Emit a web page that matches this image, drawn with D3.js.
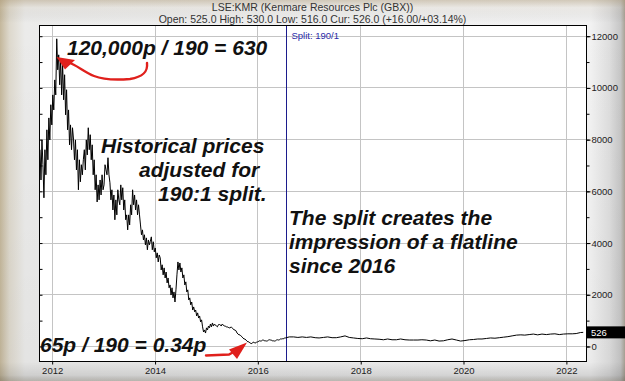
<!DOCTYPE html>
<html><head><meta charset="utf-8">
<script src="https://cdn.jsdelivr.net/npm/d3@7"></script>
<style>body{margin:0;overflow:hidden;background:#fff}svg{display:block}</style>
</head><body><svg id="c" width="625" height="381"></svg>
<script>
// ---------- data ----------
const title = "LSE:KMR (Kenmare Resources Plc (GBX))";
const subtitle = "Open: 525.0 High: 530.0 Low: 516.0 Cur: 526.0 (+16.00/+03.14%)";
const weeklyStart = "2011-10-10";
const weeklyClose = [
  7590,6420,7970,7010,5730,7590,6620,8360,7200,8820,
  7970,9330,8550,9710,9130,10290,9710,11880,10680,11260,
  10100,11070,9710,10880,9520,10490,8940,9910,8360,9130,
  7780,8550,7590,8440,8000,
  7200,7970,6810,7590,6040,7200,
  6350,7010,6620,7200,7590,6810,7970,7390,8440,7590,
  8170,7200,7780,6620,7200,6040,6620,5570,6230,5650,
  6420,5840,6620,6040,6230,7010,6810,6620,7280,6620,
  6310,5650,6040,5260,5840,4880,5650,5070,6040,5650,
  5460,6230,5650,6120,5260,5650,4880,5070,4490,5070,
  4680,5460,5070,6040,5460,5840,5260,5650,5070,5460,
  5070,4680,4300,4490,4100,4300,3910,4180,3720,4100,
  3910,4050,
  4220,3720,4030,3640,3790,3410,3600,3250,3520,
  3410,2940,3140,2750,3020,2630,2860,2440,2630,2250,
  2360,1970,2250,1860,2090,1700,2170,2750,3250,2940,
  3210,2860,3020,2630,2750,2360,2480,2090,2170,1780,
  1860,1590,1700,1390,1510,1320,1390,1160,1280,1080,
  1160,930,1010,740,540,620,500,700,620,770,
  700,850,740,890,770,850,810,770,740,810,
  850,810,770,850,810,770,770,740,740,720,
  700,700,740,700,660,620,620,580,500,460,430,
  430,390,350,310,270,270,230,190,160,160,
  120,100,90,140,150,110,120,160,150,190,
  200,190,200,230,230,190,200,190,200,230,
  240,230,230,190,200,190,200,230,240,230,
  240,270,270,280,270,310,310
];
const monthlyStart = "2016-08-15";
const monthlyClose = [
  350,350,330,350,330,350,320,310,330,350,
  320,320,350,390,330,310,290,280,310,280,
  270,260,240,270,240,240,270,240,230,230,
  230,240,230,200,230,190,200,240,270,230,
  190,210,240,250,270,270,290,310,300,320,
  340,360,390,420,430,420,440,460,430,460,
  440,460,470,440,460,470,470,480,520
];
const lastDate = "2022-05-04";
const lastClose = 526;
const splitDate = "2016-07-25";
const splitLabel = "Split: 190/1";
const yMajorTicks = [0,2000,4000,6000,8000,10000,12000];
const yMinorTicks = [0,1000,2000,3000,4000,5000,6000,7000,8000,9000,10000,11000,12000];
const xTickYears = [2012,2014,2016,2018,2020,2022];
const note1 = "120,000p / 190 = 630";
const note2 = ["Historical prices","adjusted for","190:1 split."];
const note3 = ["The split creates the","impression of a flatline","since 2016"];
const note4 = "65p / 190 = 0.34p";

// ---------- build table ----------
const parse = d3.timeParse("%Y-%m-%d");
const series = [];
weeklyClose.forEach((v,i)=>series.push({d:d3.timeWeek.offset(parse(weeklyStart),i),v}));
monthlyClose.forEach((v,i)=>series.push({d:d3.timeMonth.offset(parse(monthlyStart),i),v}));
series.push({d:parse(lastDate),v:lastClose});

// ---------- layout ----------
const W=625,H=381;
const L=39,R=587,T=25,B=362;
const svg=d3.select("#c");
const FONT="'Liberation Sans', Arial, sans-serif";

const x=d3.scaleTime().domain([parse("2011-10-03"),parse("2022-05-31")]).range([L,R]);
const y=d3.scaleLinear().domain([-620,12414]).range([B,T]);

// background
const defs=svg.append("defs");
const gH=defs.append("linearGradient").attr("id","bgH").attr("x1",0).attr("x2",1).attr("y1",0).attr("y2",0);
[[0,"#c4b79b"],[0.015,"#ddd8cc"],[0.04,"#ebebea"],[0.5,"#f0f0f0"],[0.945,"#f2f2f2"],[0.975,"#dedede"],[0.993,"#c6c6c6"],[1,"#a9a295"]]
  .forEach(s=>gH.append("stop").attr("offset",s[0]).attr("stop-color",s[1]));
const gV=defs.append("linearGradient").attr("id","bgV").attr("x1",0).attr("x2",0).attr("y1",0).attr("y2",1);
[[0,"rgba(170,150,115,0.45)"],[0.02,"rgba(170,150,115,0.1)"],[0.06,"rgba(0,0,0,0)"],[0.95,"rgba(0,0,0,0.03)"],[0.985,"rgba(0,0,0,0.12)"],[1,"rgba(60,50,30,0.3)"]]
  .forEach(s=>gV.append("stop").attr("offset",s[0]).attr("stop-color",s[1]));
svg.append("rect").attr("width",W).attr("height",H).attr("fill","url(#bgH)");
svg.append("rect").attr("width",W).attr("height",H).attr("fill","url(#bgV)");

// plot area
svg.append("rect").attr("x",L).attr("y",T).attr("width",R-L).attr("height",B-T).attr("fill","#fff");

// grid
svg.append("g").selectAll("line").data(yMajorTicks).join("line")
  .attr("x1",L).attr("x2",R).attr("y1",d=>Math.round(y(d))+0.5).attr("y2",d=>Math.round(y(d))+0.5)
  .attr("stroke","#c4c4c4");
svg.append("g").selectAll("line").data(xTickYears).join("line")
  .attr("x1",d=>Math.round(x(new Date(d,0,1)))+0.5).attr("x2",d=>Math.round(x(new Date(d,0,1)))+0.5)
  .attr("y1",T).attr("y2",B).attr("stroke","#c4c4c4");

// split line
const sx=Math.round(x(parse(splitDate)))+0.5;
svg.append("line").attr("x1",sx).attr("x2",sx).attr("y1",T).attr("y2",B).attr("stroke","#1c1c8c");
svg.append("text").attr("x",sx+5).attr("y",T+14).text(splitLabel)
  .attr("font-family",FONT).attr("font-size",9.5).attr("fill","#2a2aa8");

// price line
svg.append("path").datum(series)
  .attr("d",d3.line().x(d=>x(d.d)).y(d=>y(d.v)))
  .attr("fill","none").attr("stroke","#000").attr("stroke-width",1);

// frame
svg.append("rect").attr("x",L+0.5).attr("y",T+0.5).attr("width",R-L-1).attr("height",B-T-1)
  .attr("fill","none").attr("stroke","#000");

// axes
const axStyle=g=>{g.select(".domain").remove();g.selectAll("line").attr("stroke","#000");
  g.selectAll("text").attr("font-family",FONT).attr("font-size",9.5).attr("fill","#222");};
svg.append("g").attr("transform",`translate(${R-0.5},0.5)`)
  .call(d3.axisRight(y).tickValues(yMinorTicks).tickSize(3).tickFormat(""))
  .call(axStyle);
svg.append("g").attr("transform",`translate(${R-0.5},0.5)`)
  .call(d3.axisRight(y).tickValues(yMajorTicks).tickSize(4).tickPadding(1).tickFormat(d3.format("d")))
  .call(axStyle);
svg.append("g").attr("transform",`translate(${L+0.5},0.5)`)
  .call(d3.axisRight(y).tickValues(yMinorTicks).tickSize(3).tickFormat(""))
  .call(axStyle);
svg.append("g").attr("transform",`translate(0.5,${B-0.5})`)
  .call(d3.axisBottom(x).tickValues(xTickYears.map(v=>new Date(v,0,1))).tickSize(3).tickPadding(3).tickFormat(d3.timeFormat("%Y")))
  .call(axStyle);

// current price tag
const cy=y(lastClose);
svg.append("rect").attr("x",R).attr("y",cy-6).attr("width",W-R).attr("height",12).attr("fill","#000");
svg.append("text").attr("x",R+4).attr("y",cy+3.5).text(lastClose)
  .attr("font-family",FONT).attr("font-size",9.5).attr("fill","#fff");

// titles
svg.append("text").attr("x",W/2).attr("y",11).attr("text-anchor","middle").text(title)
  .attr("font-family",FONT).attr("font-size",10.5).attr("fill","#333");
svg.append("text").attr("x",W/2).attr("y",22.5).attr("text-anchor","middle").text(subtitle)
  .attr("font-family",FONT).attr("font-size",10.5).attr("fill","#333");

// annotations
const ann=(t,xx,yy)=>svg.append("text").attr("x",xx).attr("y",yy).text(t)
  .attr("font-family",FONT).attr("font-size",21).attr("font-weight","bold").attr("font-style","italic").attr("fill","#111");
ann(note1,67,55);
ann(note2[0],101,153); ann(note2[1],139,177); ann(note2[2],158,201);
ann(note3[0],289,225); ann(note3[1],289,249); ann(note3[2],289,273);
ann(note4,40,352);

// red arrows
const red="#e0201c";
svg.append("path").attr("d","M147,63 C148,72 143,77 130,79 C118,80 104,80 94,76 C84,72 78,66 68,62")
  .attr("fill","none").attr("stroke",red).attr("stroke-width",2.4).attr("stroke-linecap","round");
svg.append("path").attr("d","M56.5,57 L75,60 L65,69.5 Z").attr("fill",red);
svg.append("path").attr("d","M206,355.5 L229,354.5 L237,350")
  .attr("fill","none").attr("stroke",red).attr("stroke-width",2.4).attr("stroke-linecap","round");
svg.append("path").attr("d","M247,342.5 L229,349.5 L237,359 Z").attr("fill",red);
</script></body></html>
